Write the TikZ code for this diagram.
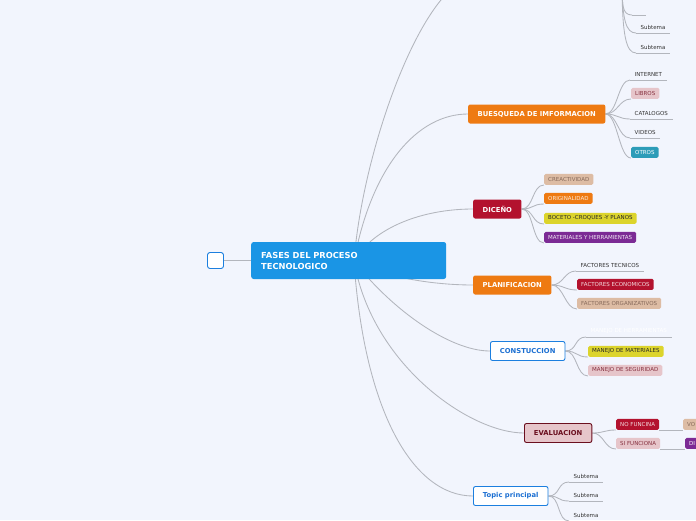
\documentclass[tikz,border=0pt]{standalone}
\usepackage{fontspec}
\setmainfont{DejaVu Sans}

\definecolor{bgazul}{HTML}{F2F5FD}
\definecolor{gris}{HTML}{B3B6BD}
\definecolor{azul}{HTML}{1A95E5}
\definecolor{azulborde}{HTML}{1C7FDF}
\definecolor{azultexto}{HTML}{1B6FD2}
\definecolor{naranja}{HTML}{EE7A12}
\definecolor{carmin}{HTML}{B3122E}
\definecolor{cafe}{HTML}{DDBCA4}
\definecolor{cafetexto}{HTML}{86695A}
\definecolor{amarillo}{HTML}{DCD42C}
\definecolor{morado}{HTML}{7C2B95}
\definecolor{rosa}{HTML}{E6C5CA}
\definecolor{rosatexto}{HTML}{86303F}
\definecolor{turquesa}{HTML}{2C9CB8}
\definecolor{vino}{HTML}{6B0F1F}

\pgfdeclarelayer{fondo}
\pgfdeclarelayer{lineas}
\pgfsetlayers{fondo,lineas,main}

\begin{document}
\begin{tikzpicture}[x=1pt,y=-1pt,
    link/.style={draw=gris, line width=0.85pt},
    sub/.style={link, to path={.. controls +(12,0) and +(-12,0) .. (\tikztotarget)}},
    rama/.style={rounded corners=2pt, minimum height=19pt, inner xsep=9.5pt, inner ysep=0pt,
        font=\fontsize{6.8}{8}\selectfont\bfseries, anchor=west},
    hoja/.style={rounded corners=1.5pt, minimum height=11pt, inner xsep=4pt, inner ysep=0pt,
        font=\fontsize{5.5}{6}\selectfont, anchor=south west},
    texto/.style={hoja, inner xsep=4.5pt, text=black!80}]

    % Fondo
    \begin{pgfonlayer}{fondo}
        \fill[bgazul] (0,0) rectangle (696,520);
    \end{pgfonlayer}
    \useasboundingbox (0,0) rectangle (696,520);

    % Tema central
    \node[draw=azulborde, line width=0.9pt, fill=white, rounded corners=2.5pt,
        minimum size=16pt, inner sep=0pt] (raiz) at (215.5,260.5) {};
    \node[fill=azul, rounded corners=2.5pt, anchor=west, minimum height=37pt,
        text width=175pt, inner xsep=10pt, align=left, text=white,
        font=\fontsize{8.3}{11}\selectfont\bfseries] (fases) at (251,260.5)
        {FASES DEL PROCESO\\TECNOLOGICO};
    \coordinate (hub) at (354,261);
    \coordinate (arribaI) at (456,-15);
    \coordinate (arribaD) at (622,-20);

    % Ramas
    \node[rama, fill=naranja, text=white] (busq) at (468,114) {BUESQUEDA DE IMFORMACION};
    \node[rama, fill=carmin, text=white] (diseno) at (473,209) {DICEÑO};
    \node[rama, fill=naranja, text=white] (plan) at (473,285) {PLANIFICACION};
    \node[rama, fill=white, draw=azulborde, line width=0.9pt, text=azultexto] (constr) at (490,351) {CONSTUCCION};
    \node[rama, fill=rosa, draw=vino, line width=0.9pt, text=vino] (eval) at (524,433) {EVALUACION};
    \node[rama, fill=white, draw=azulborde, line width=0.9pt, text=azultexto] (topic) at (473,496) {Topic principal};

    % Subtemas arriba
    \node[texto, minimum width=14pt] (vacio) at (632,15) {};
    \node[texto] (subA) at (636,33) {Subtema};
    \node[texto] (subB) at (636,53) {Subtema};

    % Busqueda
    \node[texto] (internet) at (630,80) {INTERNET};
    \node[hoja, fill=rosa, text=rosatexto] (libros) at (631,99) {LIBROS};
    \node[texto] (catalogos) at (630,119) {CATALOGOS};
    \node[texto] (videos) at (630,138) {VIDEOS};
    \node[hoja, fill=turquesa, text=white] (otros) at (631,158) {OTROS};

    % Diseno
    \node[hoja, fill=cafe, text=cafetexto] (creat) at (544,185) {CREACTIVIDAD};
    \node[hoja, fill=naranja, text=white!85!naranja] (orig) at (544,204) {ORIGINALIDAD};
    \node[hoja, fill=amarillo, text=black!85] (boceto) at (544,224) {BOCETO -CROQUES -Y PLANOS};
    \node[hoja, fill=morado, text=white!90!morado] (mater) at (544,243) {MATERIALES Y HERRAMIENTAS};

    % Planificacion
    \node[texto] (ftec) at (576,271) {FACTORES TECNICOS};
    \node[hoja, fill=carmin, text=white!85!carmin] (feco) at (577,290) {FACTORES ECONOMICOS};
    \node[hoja, fill=cafe, text=cafetexto] (forg) at (577,309) {FACTORES ORGANIZATIVOS};

    % Construccion
    \node[texto, text=white] (mherr) at (586,337) {MANEJO DE HERRAMIENTAS};
    \node[hoja, fill=amarillo, text=black!85] (mmat) at (588,357) {MANEJO DE MATERIALES};
    \node[hoja, fill=rosa, text=rosatexto] (mseg) at (588,376) {MANEJO DE SEGURIDAD};

    % Evaluacion
    \node[hoja, fill=carmin, text=white!85!carmin] (nofun) at (616,430) {NO FUNCINA};
    \node[hoja, fill=rosa, text=rosatexto] (sifun) at (616,449) {SI FUNCIONA};
    \node[hoja, fill=cafe, text=cafetexto, minimum width=40pt, align=left, text width=32pt] (vo) at (683,430) {VO};
    \node[hoja, fill=morado, text=white, minimum width=40pt, align=left, text width=32pt] (di) at (685,449) {DI};

    % Topic principal
    \node[texto] (subC) at (569,482) {Subtema};
    \node[texto] (subD) at (569,501) {Subtema};
    \node[texto] (subE) at (569,521) {Subtema};

    \begin{pgfonlayer}{lineas}
        % Conectores del tema central
        \draw[link] (raiz) -- (fases);
        \draw[link] (hub) .. controls (362,160) and (410,20) .. (arribaI);
        \draw[link] (hub) .. controls (372,165) and (418,114) .. (busq.west);
        \draw[link] (hub) .. controls (374,227) and (423,209) .. (diseno.west);
        \draw[link] (hub) .. controls (380,276) and (430,285) .. (plan.west);
        \draw[link] (hub) .. controls (392,310) and (450,351) .. (constr.west);
        \draw[link] (hub) .. controls (372,365) and (470,433) .. (eval.west);
        \draw[link] (hub) .. controls (364,411) and (413,496) .. (topic.west);

        % Conectores de las ramas
        \draw[link] (arribaD) .. controls +(0,25) and +(-10,0) .. (vacio.south west);
        \draw[link] (arribaD) .. controls +(0,40) and +(-10,0) .. (subA.south west);
        \draw[link] (arribaD) .. controls +(0,55) and +(-10,0) .. (subB.south west);

        \draw[sub] (busq.east) to (internet.south west);
        \draw[sub] (busq.east) to (libros.south west);
        \draw[sub] (busq.east) to (catalogos.south west);
        \draw[sub] (busq.east) to (videos.south west);
        \draw[sub] (busq.east) to (otros.south west);

        \draw[sub] (diseno.east) to (creat.south west);
        \draw[sub] (diseno.east) to (orig.south west);
        \draw[sub] (diseno.east) to (boceto.south west);
        \draw[sub] (diseno.east) to (mater.south west);

        \draw[sub] (plan.east) to (ftec.south west);
        \draw[sub] (plan.east) to (feco.south west);
        \draw[sub] (plan.east) to (forg.south west);

        \draw[sub] (constr.east) to (mherr.south west);
        \draw[sub] (constr.east) to (mmat.south west);
        \draw[sub] (constr.east) to (mseg.south west);

        \draw[sub] (eval.east) to (nofun.south west);
        \draw[sub] (eval.east) to (sifun.south west);
        \draw[sub] (nofun.south east) to (vo.south west);
        \draw[sub] (sifun.south east) to (di.south west);

        \draw[sub] (topic.east) to (subC.south west);
        \draw[sub] (topic.east) to (subD.south west);
        \draw[sub] (topic.east) to (subE.south west);

        % Subrayados
        \foreach \n in {vacio,subA,subB,internet,catalogos,videos,ftec,mherr,subC,subD,subE}
            \draw[link] (\n.south west) -- (\n.south east);
    \end{pgfonlayer}

\end{tikzpicture}
\end{document}
